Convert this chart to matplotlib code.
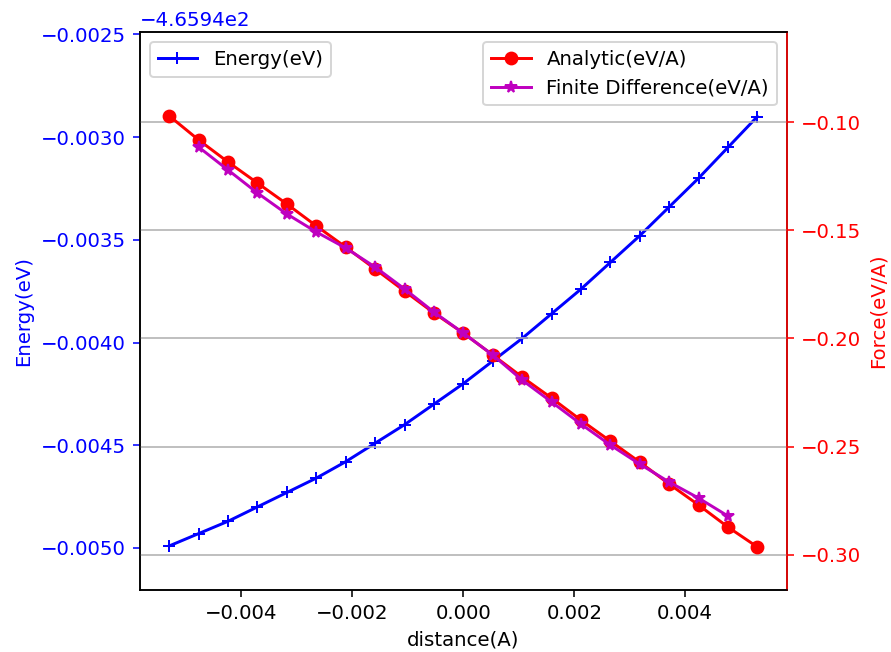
import matplotlib
matplotlib.use("Agg")
import matplotlib.pyplot as plt


distance = [-0.0053, -0.00477, -0.00424, -0.00371, -0.00318, -0.00265, -0.00212,
            -0.00159, -0.00106, -0.00053, 0.0, 0.00053, 0.00106, 0.00159,
            0.00212, 0.00265, 0.00318, 0.00371, 0.00424, 0.00477, 0.0053]

energy = [-465.94499, -465.94493, -465.94487, -465.94480, -465.94473, -465.94466,
          -465.94458, -465.94449, -465.94440, -465.94430, -465.94420, -465.94409,
          -465.94398, -465.94386, -465.94374, -465.94361, -465.94348, -465.94334,
          -465.94320, -465.94305, -465.94290]

force_analytic = [-0.0972, -0.1083, -0.1185, -0.1282, -0.1379, -0.1480, -0.1578,
                  -0.1679, -0.1781, -0.1882, -0.1975, -0.2076, -0.2178, -0.2275,
                  -0.2377, -0.2474, -0.2571, -0.2672, -0.2769, -0.2871, -0.2963]

# central differences, so no value at the two end points
distance_fd = distance[1:-1]
force_fd = [-0.1116, -0.1222, -0.1328, -0.1425, -0.1508, -0.1582, -0.1670,
            -0.1771, -0.1878, -0.1975, -0.2076, -0.2192, -0.2293, -0.2395,
            -0.2492, -0.2580, -0.2663, -0.2737, -0.2820]


def main():
    dpi = 142
    fig, ax1 = plt.subplots(figsize=(891 / dpi, 652 / dpi), dpi=dpi)
    fig.subplots_adjust(left=0.157, right=0.883, bottom=0.095, top=0.951)

    ax1.plot(distance, energy, 'b+-', label='Energy(eV)')
    ax1.set_xlabel('distance(A)')
    ax1.set_ylabel('Energy(eV)', color='b')
    ax1.tick_params(axis='y', colors='b')
    ax1.set_ylim(-465.945205, -465.942488)
    ax1.legend(loc='upper left')

    ax2 = ax1.twinx()
    ax2.plot(distance, force_analytic, 'ro-', label='Analytic(eV/A)')
    ax2.plot(distance_fd, force_fd, 'm*-', label='Finite Difference(eV/A)')
    ax2.set_ylabel('Force(eV/A)', color='r')
    ax2.tick_params(axis='y', colors='r')
    ax2.spines['right'].set_color('r')
    ax2.set_ylim(-0.3162, -0.0584)
    ax2.grid()
    ax2.legend(loc='upper right')

    fig.savefig('out.png', dpi=dpi)


if __name__ == '__main__':
    main()
